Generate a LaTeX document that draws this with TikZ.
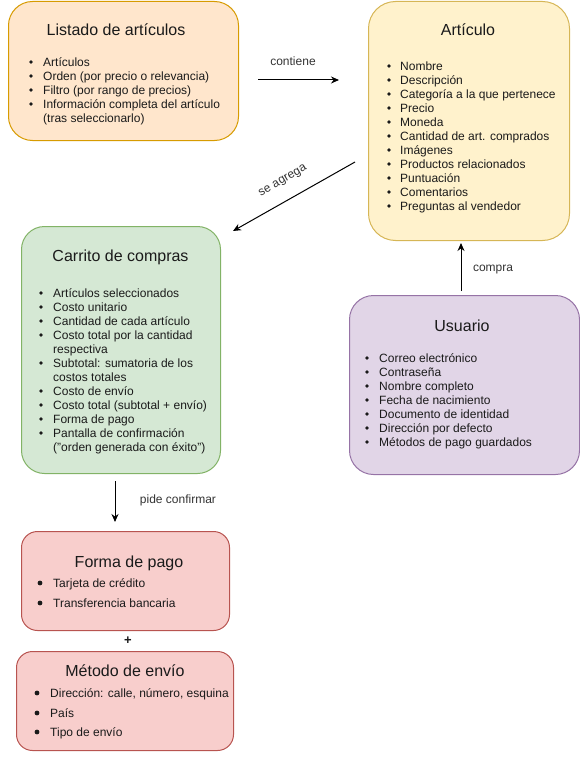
\documentclass[tikz,border=0pt]{standalone}
\usepackage{fontspec}
\setmainfont{Liberation Sans}
\usetikzlibrary{arrows.meta}
\definecolor{orfill}{HTML}{FFE6CC}\definecolor{orline}{HTML}{D79B00}
\definecolor{yefill}{HTML}{FFF2CC}\definecolor{yeline}{HTML}{D6B656}
\definecolor{grfill}{HTML}{D5E8D4}\definecolor{grline}{HTML}{82B366}
\definecolor{refill}{HTML}{F8CECC}\definecolor{reline}{HTML}{B85450}
\definecolor{pufill}{HTML}{E1D5E7}\definecolor{puline}{HTML}{9673A6}
\definecolor{txt}{HTML}{1A1A1A}
\definecolor{lbltxt}{HTML}{333333}
\newcommand\bulrad{1.9}
\newcommand\bul[5]{\fill[txt] (#2,#4) circle (\bulrad); \node[itm] (#1) at (#3,#4+4.5) {#5};}
\newcommand\cont[4]{\node[itm] (#1) at (#2,#3+4.5) {#4};}
\begin{document}
\begin{tikzpicture}[x=1pt,y=-1pt,
  box/.style={draw, line width=1pt, inner sep=0pt, anchor=north west},
  ttl/.style={anchor=base, font=\fontsize{16}{19}\selectfont, text=txt, inner sep=0pt},
  itm/.style={anchor=base west, font=\fontsize{12}{14}\selectfont, text=txt, inner sep=0pt},
  lbl/.style={font=\fontsize{12}{14}\selectfont, text=lbltxt, inner sep=0pt},
  conn/.style={-{Stealth[length=8pt,width=7pt]}, line width=1pt, draw=black}]
\useasboundingbox (0,0) rectangle (580,757);

% Listado de articulos
\node[box, fill=orfill, draw=orline, rounded corners=24pt, minimum width=230pt, minimum height=139pt] (lista) at (8,1) {};
\node[ttl] (listaT) at (116,36) {Listado de artículos};
\bul{l1}{31}{43}{62}{Artículos}
\bul{l2}{31}{43}{76}{Orden (por precio o relevancia)}
\bul{l3}{31}{43}{90}{Filtro (por rango de precios)}
\bul{l4}{31}{43}{104}{Información completa del artículo}
\cont{l5}{43}{118}{(tras seleccionarlo)}

% Articulo
\node[box, fill=yefill, draw=yeline, rounded corners=27pt, minimum width=201pt, minimum height=239pt] (art) at (368,1) {};
\node[ttl] (artT) at (468,36) {Artículo};
\foreach \yy/\t [count=\i] in {66/Nombre,80/Descripción,94/Categoría a la que pertenece,108/Precio,122/Moneda,136/Cantidad de art. comprados,150/Imágenes,164/Productos relacionados,178/Puntuación,192/Comentarios,206/Preguntas al vendedor}{
  \bul{a\i}{389}{400}{\yy}{\t}
}

% Carrito
\node[box, fill=grfill, draw=grline, rounded corners=23pt, minimum width=199pt, minimum height=247pt] (car) at (21,226) {};
\node[ttl] (carT) at (120.5,261) {Carrito de compras};
\bul{c1}{41}{53}{293}{Artículos seleccionados}
\bul{c2}{41}{53}{307}{Costo unitario}
\bul{c3}{41}{53}{321}{Cantidad de cada artículo}
\bul{c4}{41}{53}{335}{Costo total por la cantidad}
\cont{c5}{53}{349}{respectiva}
\bul{c6}{41}{53}{363}{Subtotal: sumatoria de los}
\cont{c7}{53}{377}{costos totales}
\bul{c8}{41}{53}{391}{Costo de envío}
\bul{c9}{41}{53}{405}{Costo total (subtotal + envío)}
\bul{c10}{41}{53}{419}{Forma de pago}
\bul{c11}{41}{53}{433}{Pantalla de confirmación}
\cont{c12}{53}{447}{("orden generada con éxito")}

% Usuario
\node[box, fill=pufill, draw=puline, rounded corners=24pt, minimum width=230pt, minimum height=179pt] (usr) at (349,295) {};
\node[ttl] (usrT) at (462,331) {Usuario};
\foreach \yy/\t [count=\i] in {358/Correo electrónico,372/Contraseña,386/Nombre completo,400/Fecha de nacimiento,414/Documento de identidad,428/Dirección por defecto,442/Métodos de pago guardados}{
  \bul{u\i}{367}{379}{\yy}{\t}
}

% Forma de pago
\renewcommand\bulrad{2.4}
\node[box, fill=refill, draw=reline, rounded corners=16pt, minimum width=208pt, minimum height=99pt] (pago) at (21,531) {};
\node[ttl] (pagoT) at (129,567) {Forma de pago};
\bul{p1}{40}{53}{583}{Tarjeta de crédito}
\bul{p2}{40}{53}{603}{Transferencia bancaria}

\node[font=\fontsize{13}{15}\selectfont\bfseries, text=txt, inner sep=0pt] (plus) at (128,641) {+};

% Metodo de envio
\node[box, fill=refill, draw=reline, rounded corners=16pt, minimum width=217pt, minimum height=99pt] (env) at (16,651) {};
\node[ttl] (envT) at (125,676) {Método de envío};
\bul{e1}{37}{50}{693}{Dirección: calle, número, esquina}
\bul{e2}{37}{50}{713}{País}
\bul{e3}{37}{50}{732}{Tipo de envío}

% connectors
\coordinate (k1s) at (258,80); \coordinate (k1e) at (339,80);
\draw[conn] (k1s) -- (k1e);
\node[lbl] (k1l) at (293,61) {contiene};

\coordinate (k2s) at (355,162); \coordinate (k2e) at (233,231);
\draw[conn] (k2s) -- (k2e);
\node[lbl, rotate=30] (k2l) at (283,181) {se agrega};

\coordinate (k3s) at (115,481); \coordinate (k3e) at (115,522);
\draw[conn] (k3s) -- (k3e);
\node[lbl] (k3l) at (178,500) {pide confirmar};

\coordinate (k4s) at (461,291); \coordinate (k4e) at (461,243);
\draw[conn] (k4s) -- (k4e);
\node[lbl] (k4l) at (493,270) {compra};
\end{tikzpicture}
\end{document}
